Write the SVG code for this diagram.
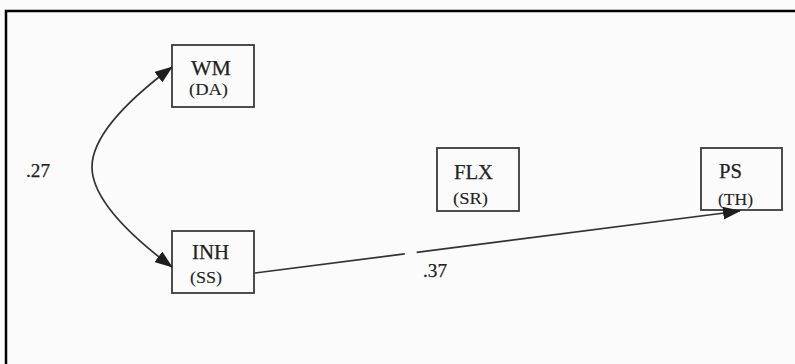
<svg xmlns="http://www.w3.org/2000/svg" width="795" height="364" viewBox="0 0 795 364">
<defs>
<style>
.box{fill:none;stroke:#3a3a3a;stroke-width:1.8}
.t{font-family:"Liberation Serif","Times New Roman",serif;fill:#222;stroke:#222;stroke-width:0.25}
.big{font-size:21px}
.small{font-size:16px;stroke-width:0.1}
.lbl{font-size:19px}
.edge{fill:none;stroke:#333;stroke-width:1.7}
</style>
<marker id="ah" viewBox="0 0 18 13" refX="17" refY="6.5" markerWidth="18" markerHeight="13" markerUnits="userSpaceOnUse" orient="auto-start-reverse">
<path d="M0,0 L18,6.5 L0,13 Z" fill="#1e1e1e"/>
</marker>
</defs>
<rect x="0" y="0" width="795" height="364" fill="#fbfbfb"/>
<rect x="6" y="11" width="820" height="400" fill="none" stroke="#000" stroke-width="2.5"/>
<g id="WM">
<rect class="box" x="172" y="45" width="82" height="62"/>
<text class="t big" x="191" y="75" textLength="40" lengthAdjust="spacingAndGlyphs">WM</text>
<text class="t small" x="189" y="95" textLength="39" lengthAdjust="spacingAndGlyphs">(DA)</text>
</g>
<g id="INH">
<rect class="box" x="172" y="231" width="82" height="62"/>
<text class="t big" x="192" y="259" textLength="37" lengthAdjust="spacingAndGlyphs">INH</text>
<text class="t small" x="190" y="283" textLength="32" lengthAdjust="spacingAndGlyphs">(SS)</text>
</g>
<g id="FLX">
<rect class="box" x="437" y="148" width="82" height="63"/>
<text class="t big" x="454" y="179" textLength="39" lengthAdjust="spacingAndGlyphs">FLX</text>
<text class="t small" x="453" y="204" textLength="35" lengthAdjust="spacingAndGlyphs">(SR)</text>
</g>
<g id="PS">
<rect class="box" x="701" y="148" width="81" height="62"/>
<text class="t big" x="719" y="178" textLength="23" lengthAdjust="spacingAndGlyphs">PS</text>
<text class="t small" x="718" y="205" textLength="35" lengthAdjust="spacingAndGlyphs">(TH)</text>
</g>
<g id="connectors">
<path class="edge" d="M172,67 Q92,127 92,167 Q92,207 172,267" marker-start="url(#ah)" marker-end="url(#ah)"/>
<path class="edge" d="M255,273 L740,211" stroke-dasharray="151 12 400" marker-end="url(#ah)"/>
<text class="t lbl" x="26" y="177" textLength="24" lengthAdjust="spacingAndGlyphs">.27</text>
<text class="t lbl" x="423" y="277" textLength="24" lengthAdjust="spacingAndGlyphs">.37</text>
</g>
</svg>
